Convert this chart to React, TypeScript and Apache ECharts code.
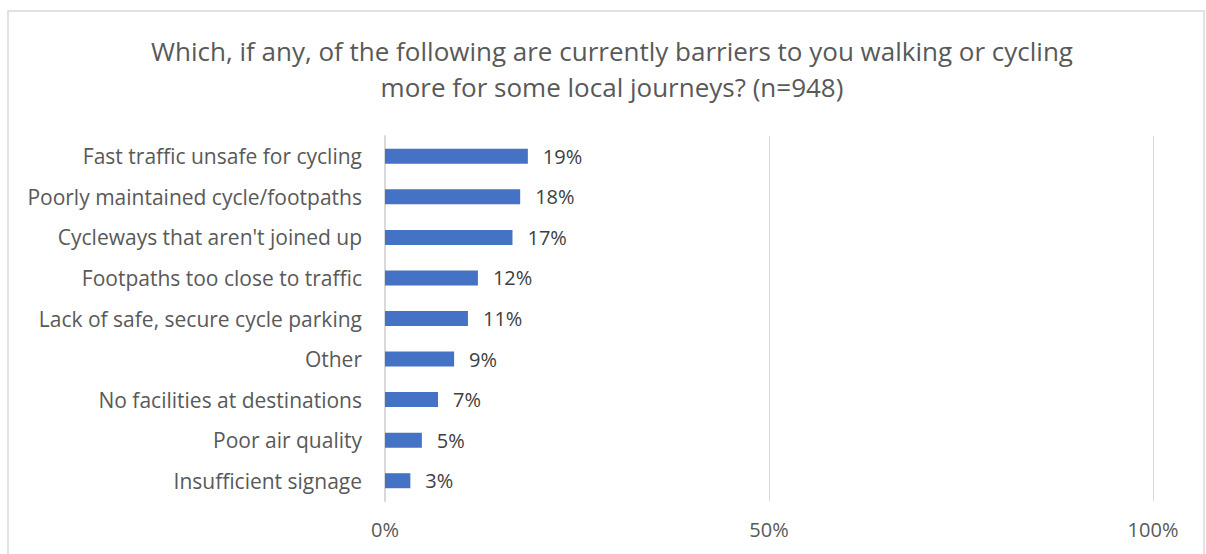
import React, { useEffect, useRef } from "react";
import * as echarts from "echarts";

const categories = [
  "Fast traffic unsafe for cycling",
  "Poorly maintained cycle/footpaths",
  "Cycleways that aren't joined up",
  "Footpaths too close to traffic",
  "Lack of safe, secure cycle parking",
  "Other",
  "No facilities at destinations",
  "Poor air quality",
  "Insufficient signage",
];
const values = [18.6, 17.6, 16.6, 12.1, 10.8, 9.0, 6.9, 4.8, 3.3];
const xTicks = [0, 50, 100];

const FONT = "Open Sans";

export default function App() {
  const ref = useRef<HTMLDivElement>(null);
  useEffect(() => {
    if (!ref.current) return;
    const chart = echarts.init(ref.current, undefined, { renderer: "svg" });
    chart.setOption({
      animation: false,
      backgroundColor: "#ffffff",
      title: {
        text: "Which, if any, of the following are currently barriers to you walking or cycling\nmore for some local journeys? (n=948)",
        left: 607,
        top: 28,
        textAlign: "center",
        textStyle: {
          fontFamily: FONT,
          fontSize: 26,
          fontWeight: "normal",
          color: "#595959",
          lineHeight: 36,
        },
      },
      graphic: [
        {
          type: "rect",
          shape: { x: 8, y: 11, width: 1196, height: 560 },
          style: { fill: "none", stroke: "#d9d9d9", lineWidth: 1.5 },
          silent: true,
        },
      ],
      grid: { left: 385, right: 53, top: 136, bottom: 53, containLabel: false },
      xAxis: {
        type: "value",
        min: xTicks[0],
        max: xTicks[xTicks.length - 1],
        interval: xTicks[1] - xTicks[0],
        axisLine: { show: false },
        axisTick: { show: false },
        splitLine: { lineStyle: { color: "#d9d9d9", width: 1 } },
        axisLabel: {
          formatter: "{value}%",
          fontFamily: FONT,
          fontSize: 20,
          color: "#595959",
          margin: 18,
        },
      },
      yAxis: {
        type: "category",
        data: categories,
        inverse: true,
        axisLine: { show: true, lineStyle: { color: "#d9d9d9", width: 2 } },
        axisTick: { show: false },
        axisLabel: {
          fontFamily: FONT,
          fontSize: 21,
          color: "#595959",
          margin: 23,
        },
      },
      series: [
        {
          type: "bar",
          data: values,
          barWidth: 15,
          itemStyle: { color: "#4472c4" },
          label: {
            show: true,
            position: "right",
            distance: 15,
            formatter: (p: any) => Math.round(p.value) + "%",
            fontFamily: FONT,
            fontSize: 20,
            color: "#404040",
          },
        },
      ],
    });
    return () => chart.dispose();
  }, []);
  return (
    <div
      ref={ref}
      style={{ position: "fixed", left: 0, top: 0, width: 1206, height: 554 }}
    />
  );
}
